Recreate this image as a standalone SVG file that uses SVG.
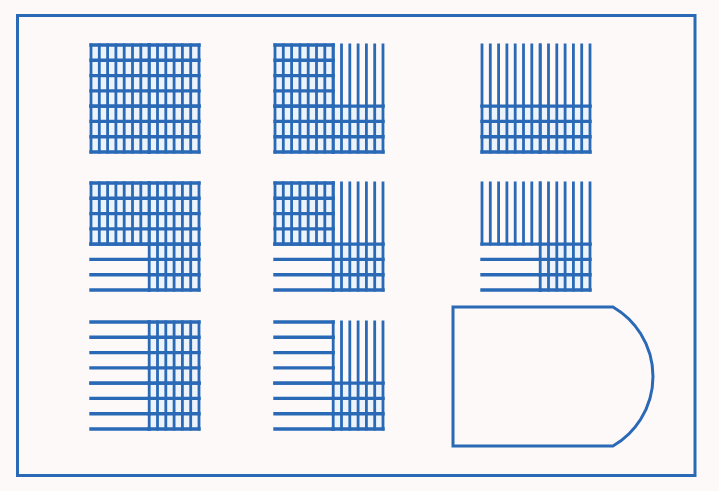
<svg xmlns="http://www.w3.org/2000/svg" xmlns:xlink="http://www.w3.org/1999/xlink" width="719" height="491" viewBox="0 0 719 491">
<style>
.ln{fill:none;stroke:#2a69b6;stroke-linecap:square}
.v{stroke-width:2.8}
.h{stroke-width:3.4}
.f{fill:#edf3fa;stroke:none}
.frame{fill:none;stroke:#2a69b6;stroke-width:3}
</style>
<defs>
<path id="vTL" d="M0,0V61.1M8.3,0V61.1M16.6,0V61.1M24.9,0V61.1M33.2,0V61.1M41.5,0V61.1M49.8,0V61.1M58.2,0V61.1"/>
<path id="vTR" d="M58.2,0V61.1M66.5,0V61.1M74.8,0V61.1M83.1,0V61.1M91.4,0V61.1M99.7,0V61.1M108,0V61.1"/>
<path id="vBL" d="M0,61.1V107M8.3,61.1V107M16.6,61.1V107M24.9,61.1V107M33.2,61.1V107M41.5,61.1V107M49.8,61.1V107M58.2,61.1V107"/>
<path id="vBR" d="M58.2,61.1V107M66.5,61.1V107M74.8,61.1V107M83.1,61.1V107M91.4,61.1V107M99.7,61.1V107M108,61.1V107"/>
<path id="hTL" d="M0,0H58.2M0,15.3H58.2M0,30.6H58.2M0,45.9H58.2M0,61.1H58.2"/>
<path id="hTR" d="M58.2,0H108M58.2,15.3H108M58.2,30.6H108M58.2,45.9H108M58.2,61.1H108"/>
<path id="hBL" d="M0,61.1H58.2M0,76.4H58.2M0,91.7H58.2M0,107H58.2"/>
<path id="hBR" d="M58.2,61.1H108M58.2,76.4H108M58.2,91.7H108M58.2,107H108"/>
<rect id="fTL" x="0" y="0" width="58.2" height="61.1"/>
<rect id="fTR" x="58.2" y="0" width="49.8" height="61.1"/>
<rect id="fBL" x="0" y="61.1" width="58.2" height="45.9"/>
<rect id="fBR" x="58.2" y="61.1" width="49.8" height="45.9"/>
</defs>
<rect x="0" y="0" width="719" height="491" fill="#fdf9f9"/>
<rect id="frame" class="frame" x="17.5" y="15.5" width="677.5" height="460"/>

<g id="grid1" class="ln" transform="translate(91,45)">
<use class="f" href="#fTL"/><use class="f" href="#fTR"/><use class="f" href="#fBL"/><use class="f" href="#fBR"/>
<use class="v" href="#vTL"/><use class="v" href="#vTR"/><use class="v" href="#vBL"/><use class="v" href="#vBR"/>
<use class="h" href="#hTL"/><use class="h" href="#hTR"/><use class="h" href="#hBL"/><use class="h" href="#hBR"/>
</g>
<g id="grid2" class="ln" transform="translate(275,45)">
<use class="f" href="#fTL"/><use class="f" href="#fBL"/><use class="f" href="#fBR"/>
<use class="v" href="#vTL"/><use class="v" href="#vTR"/><use class="v" href="#vBL"/><use class="v" href="#vBR"/>
<use class="h" href="#hTL"/><use class="h" href="#hBL"/><use class="h" href="#hBR"/>
</g>
<g id="grid3" class="ln" transform="translate(482,45)">
<use class="f" href="#fBL"/><use class="f" href="#fBR"/>
<use class="v" href="#vTL"/><use class="v" href="#vTR"/><use class="v" href="#vBL"/><use class="v" href="#vBR"/>
<use class="h" href="#hBL"/><use class="h" href="#hBR"/>
</g>
<g id="grid4" class="ln" transform="translate(91,183)">
<use class="f" href="#fTL"/><use class="f" href="#fTR"/><use class="f" href="#fBR"/>
<use class="v" href="#vTL"/><use class="v" href="#vTR"/><use class="v" href="#vBR"/>
<use class="h" href="#hTL"/><use class="h" href="#hTR"/><use class="h" href="#hBL"/><use class="h" href="#hBR"/>
</g>
<g id="grid5" class="ln" transform="translate(275,183)">
<use class="f" href="#fTL"/><use class="f" href="#fBR"/>
<use class="v" href="#vTL"/><use class="v" href="#vTR"/><use class="v" href="#vBR"/>
<use class="h" href="#hTL"/><use class="h" href="#hBL"/><use class="h" href="#hBR"/>
</g>
<g id="grid6" class="ln" transform="translate(482,183)">
<use class="f" href="#fBR"/>
<use class="v" href="#vTL"/><use class="v" href="#vTR"/><use class="v" href="#vBR"/>
<use class="h" href="#hBL"/><use class="h" href="#hBR"/>
</g>
<g id="grid7" class="ln" transform="translate(91,322)">
<use class="f" href="#fTR"/><use class="f" href="#fBR"/>
<use class="v" href="#vTR"/><use class="v" href="#vBR"/>
<use class="h" href="#hTL"/><use class="h" href="#hTR"/><use class="h" href="#hBL"/><use class="h" href="#hBR"/>
</g>
<g id="grid8" class="ln" transform="translate(275,322)">
<use class="f" href="#fBR"/>
<use class="v" href="#vTR"/><use class="v" href="#vBR"/>
<use class="h" href="#hTL"/><use class="h" href="#hBL"/><use class="h" href="#hBR"/>
</g>
<g id="shape">
<path class="frame" d="M453,307H613A80.4,80.4 0 0 1 613,446H453Z"/>
</g>
<g id="connectors"/>
</svg>
